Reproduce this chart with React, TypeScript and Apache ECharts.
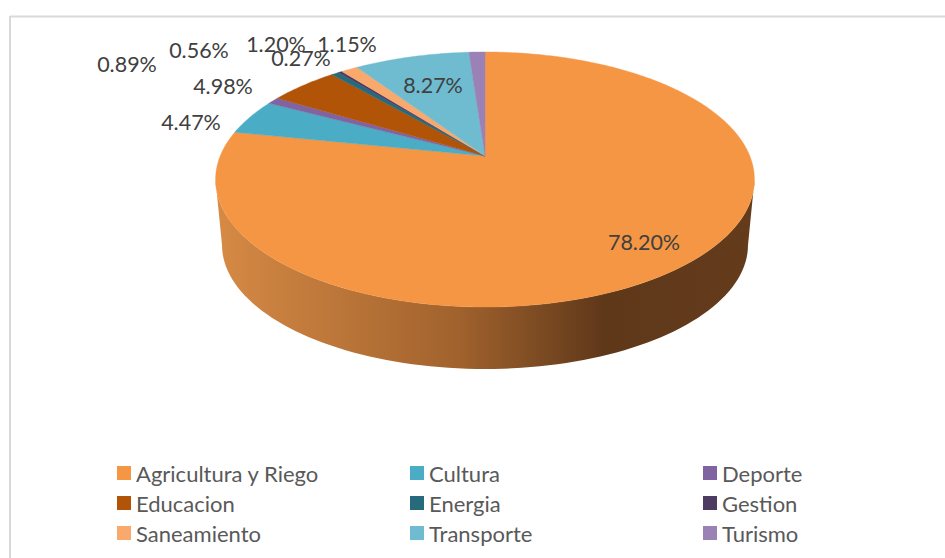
import React, { useEffect, useRef } from "react";
import * as echarts from "echarts";

const categories = ["Agricultura y Riego", "Cultura", "Deporte", "Educacion", "Energia", "Gestion", "Saneamiento", "Transporte", "Turismo"];
const shares = [78.2, 4.47, 0.89, 4.98, 0.56, 0.27, 1.2, 8.27, 1.15];
const colors = ["#F59645", "#4BACC6", "#8064A2", "#B25407", "#276A7C", "#4D3B62", "#F9A96C", "#6FBCD1", "#9B82B6"];
const legendColumns = [
  ["Agricultura y Riego", "Educacion", "Saneamiento"],
  ["Cultura", "Energia", "Transporte"],
  ["Deporte", "Gestion", "Turismo"],
];
const labelAnchors = [[644, 242], [191, 122], [127, 64], [223, 86], [199, 50], [301, 58], [276, 44], [433, 85], [347, 44]];

const FONT = "Lato, Carlito, sans-serif";
const CX = 485, CY = 156;
const TOP_A = 123.2, TOP_B = 264.8, TOP_K = 0.1843;

// Perspective projection of the unit disk onto the tilted top face
function project(deg: number): number[] {
  const t = (deg * Math.PI) / 180;
  const X = Math.sin(t), Y = Math.cos(t);
  const d = 1 + TOP_K * Y;
  return [CX + (TOP_B * X) / d, CY - (TOP_A * Y) / d];
}

function wallPoints(): number[][] {
  const pts: number[][] = [];
  for (let a = 180; a >= 0; a -= 2) {
    const t = (a * Math.PI) / 180;
    pts.push([CX + 269.5 * Math.cos(t), 179.5 + 127.5 * Math.sin(t)]);
  }
  for (let a = 0; a <= 180; a += 2) {
    const t = (a * Math.PI) / 180;
    pts.push([CX + 263 * Math.cos(t), 245 + 124 * Math.sin(t)]);
  }
  return pts;
}

export default function App() {
  const ref = useRef<HTMLDivElement>(null);
  useEffect(() => {
    const chart = echarts.init(ref.current!, null, { renderer: "svg" });
    const total = shares.reduce((a, b) => a + b, 0);
    const series = categories.map((name, i) => ({
      type: "custom",
      name,
      coordinateSystem: "none",
      silent: true,
      itemStyle: { color: colors[i] },
      data: [[shares[i]]],
      renderItem: (_p: any, api: any) => {
        const value = api.value(0) as number;
        const before = shares.slice(0, i).reduce((a, b) => a + b, 0);
        const start = (before / total) * 360;
        const end = ((before + value) / total) * 360;
        const pts: number[][] = [[CX, CY]];
        const steps = Math.max(2, Math.ceil((end - start) / 1));
        for (let s = 0; s <= steps; s++) pts.push(project(start + ((end - start) * s) / steps));
        const children: any[] = [];
        if (i === 0) {
          children.push({
            type: "polygon",
            shape: { points: wallPoints() },
            style: {
              fill: new echarts.graphic.LinearGradient(0, 0, 1, 0, [
                { offset: 0, color: "#D68A45" },
                { offset: 0.45, color: "#A1622D" },
                { offset: 0.72, color: "#5F381A" },
                { offset: 1, color: "#643C1C" },
              ]),
            },
          });
        }
        children.push({
          type: "polygon",
          shape: { points: pts },
          style: { fill: colors[i], stroke: colors[i], lineWidth: 0.4 },
        });
        children.push({
          type: "text",
          style: {
            text: value.toFixed(2) + "%",
            x: labelAnchors[i][0],
            y: labelAnchors[i][1],
            fill: "#404040",
            fontFamily: FONT,
            fontSize: 21.5,
            align: "center",
            verticalAlign: "middle",
          },
        });
        return { type: "group", children };
      },
    }));
    chart.setOption({
      animation: false,
      backgroundColor: "#ffffff",
      legend: legendColumns.map((data, c) => ({
        data,
        orient: "vertical",
        left: 112 + c * 293,
        top: 457,
        icon: "rect",
        itemWidth: 14,
        itemHeight: 14,
        itemGap: 8,
        selectedMode: false,
        textStyle: { color: "#595959", fontFamily: FONT, fontSize: 22, lineHeight: 21.5 },
      })),
      graphic: [
        { type: "line", shape: { x1: 10, y1: 16.5, x2: 945, y2: 16.5 }, style: { stroke: "#D9D9D9", lineWidth: 2 }, silent: true },
        { type: "line", shape: { x1: 10, y1: 16, x2: 10, y2: 558 }, style: { stroke: "#D9D9D9", lineWidth: 2 }, silent: true },
      ],
      series,
    });
    return () => chart.dispose();
  }, []);
  return <div ref={ref} style={{ position: "fixed", left: 0, top: 0, width: 945, height: 558 }} />;
}
